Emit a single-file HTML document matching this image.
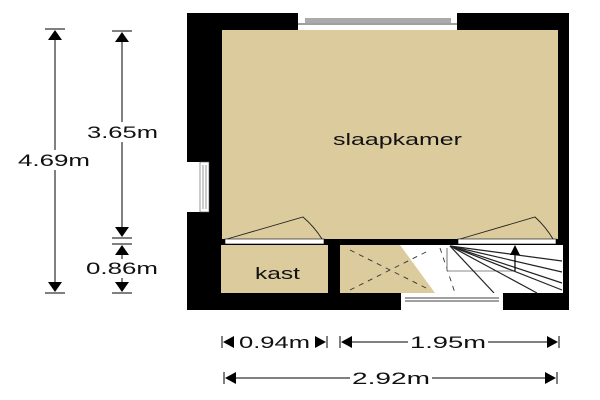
<!DOCTYPE html>
<html><head><meta charset="utf-8"><style>
html,body{margin:0;padding:0;background:#fff;width:600px;height:400px;overflow:hidden}
svg text{font-family:"Liberation Sans",sans-serif;font-size:17px;fill:#111}
</style></head><body>
<svg width="600" height="400" viewBox="0 0 600 400" xmlns="http://www.w3.org/2000/svg">
<defs>
<marker id="a" markerWidth="10" markerHeight="10" refX="9" refY="5" orient="auto" markerUnits="userSpaceOnUse"><path d="M0,0 L10,5 L0,10z" fill="#000"/></marker>
</defs>
<rect x="187" y="13" width="382" height="297" fill="#000"/>
<rect x="222" y="30" width="336" height="209" fill="#dbcb9d"/>
<rect x="298" y="13" width="159" height="17" fill="#fff"/>
<rect x="305" y="18" width="146" height="5" fill="#aaa"/>
<line x1="298" y1="24" x2="457" y2="24" stroke="#000" stroke-width="0.8"/>
<rect x="187" y="162" width="13" height="50" fill="#fff"/>
<rect x="200" y="162" width="9" height="50" fill="#fff" stroke="#555" stroke-width="0.6"/>
<line x1="203" y1="165" x2="203" y2="209" stroke="#555" stroke-width="0.6"/>
<line x1="206" y1="165" x2="206" y2="209" stroke="#555" stroke-width="0.6"/>
<rect x="221" y="245" width="107" height="48" fill="#dbcb9d"/>
<rect x="340" y="245" width="223" height="48" fill="#fff"/>
<polygon points="340,245 400,245 435,293 340,293" fill="#dbcb9d"/>
<g stroke="#333" stroke-width="0.9" stroke-dasharray="5,5" fill="none">
<line x1="350" y1="250" x2="430" y2="290"/>
<line x1="350" y1="290" x2="430" y2="250"/>
<line x1="440" y1="248" x2="455" y2="293"/>
</g>
<line x1="447" y1="248" x2="447" y2="271" stroke="#888" stroke-width="1.2"/>
<line x1="447" y1="271" x2="515" y2="271" stroke="#888" stroke-width="1"/>
<g stroke="#222" stroke-width="1.2">
<line x1="450" y1="246" x2="494" y2="293"/>
<line x1="450" y1="246" x2="537" y2="293"/>
<line x1="450" y1="246" x2="562" y2="290"/>
<line x1="450" y1="246" x2="562" y2="283"/>
<line x1="450" y1="246" x2="562" y2="272"/>
<line x1="450" y1="246" x2="562" y2="261"/>
</g>
<line x1="515" y1="271" x2="515" y2="246" stroke="#000" stroke-width="1.2" marker-end="url(#a)"/>
<rect x="401" y="293" width="102" height="17" fill="#fff"/>
<line x1="405" y1="298" x2="499" y2="298" stroke="#000" stroke-width="0.8"/>
<line x1="405" y1="301" x2="499" y2="301" stroke="#000" stroke-width="0.8"/>
<rect x="225" y="239" width="99" height="5" fill="#fff" stroke="#000" stroke-width="0.6"/>
<rect x="458" y="239" width="98" height="5" fill="#fff" stroke="#000" stroke-width="0.6"/>
<path d="M227,239 L303,217 A96,96 0 0 1 322,239" fill="none" stroke="#222" stroke-width="0.9"/>
<path d="M460,239 L535,217 A96,96 0 0 1 553,239" fill="none" stroke="#222" stroke-width="0.9"/>
<text x="333" y="145" textLength="129" lengthAdjust="spacingAndGlyphs">slaapkamer</text>
<text x="255" y="279" textLength="45" lengthAdjust="spacingAndGlyphs">kast</text>
<g stroke="#000" stroke-width="1">
<line x1="45" y1="29" x2="65" y2="29"/><line x1="45" y1="293" x2="65" y2="293"/>
<line x1="55" y1="40" x2="55" y2="283"/>
<line x1="112" y1="31" x2="132" y2="31"/><line x1="112" y1="238" x2="132" y2="238"/>
<line x1="122" y1="42" x2="122" y2="228"/>
<line x1="112" y1="244" x2="132" y2="244"/><line x1="112" y1="293" x2="132" y2="293"/>
<line x1="122" y1="254" x2="122" y2="283"/>
</g>
<g fill="#000">
<path d="M48,40 L62,40 L55,30z"/><path d="M48,282 L62,282 L55,292z"/>
<path d="M115,42 L129,42 L122,32z"/><path d="M115,227 L129,227 L122,237z"/>
<path d="M115,255 L129,255 L122,245z"/><path d="M115,282 L129,282 L122,292z"/>
</g>
<rect x="17" y="150" width="75" height="20" fill="#fff"/>
<text x="18" y="166" textLength="72" lengthAdjust="spacingAndGlyphs">4.69m</text>
<rect x="86" y="122" width="75" height="20" fill="#fff"/>
<text x="87" y="138" textLength="71" lengthAdjust="spacingAndGlyphs">3.65m</text>
<rect x="85" y="259" width="75" height="19" fill="#fff"/>
<text x="86" y="274" textLength="72" lengthAdjust="spacingAndGlyphs">0.86m</text>
<g stroke="#000" stroke-width="1">
<line x1="222" y1="336" x2="222" y2="348"/><line x1="327" y1="336" x2="327" y2="348"/>
<line x1="340" y1="336" x2="340" y2="348"/><line x1="559" y1="336" x2="559" y2="348"/>
<line x1="350" y1="342" x2="549" y2="342"/>
<line x1="224" y1="372" x2="224" y2="384"/><line x1="557" y1="372" x2="557" y2="384"/>
<line x1="234" y1="378" x2="547" y2="378"/>
</g>
<g fill="#000">
<path d="M223,342 L234,336 L234,348z"/><path d="M326,342 L315,336 L315,348z"/>
<path d="M341,342 L352,336 L352,348z"/><path d="M558,342 L547,336 L547,348z"/>
<path d="M225,378 L236,372 L236,384z"/><path d="M556,378 L545,372 L545,384z"/>
</g>
<rect x="237" y="332" width="76" height="20" fill="#fff"/>
<text x="239" y="348" textLength="71" lengthAdjust="spacingAndGlyphs">0.94m</text>
<rect x="408" y="332" width="80" height="20" fill="#fff"/>
<text x="410" y="348" textLength="76" lengthAdjust="spacingAndGlyphs">1.95m</text>
<rect x="350" y="368" width="82" height="20" fill="#fff"/>
<text x="352" y="384" textLength="78" lengthAdjust="spacingAndGlyphs">2.92m</text>
</svg>
</body></html>
